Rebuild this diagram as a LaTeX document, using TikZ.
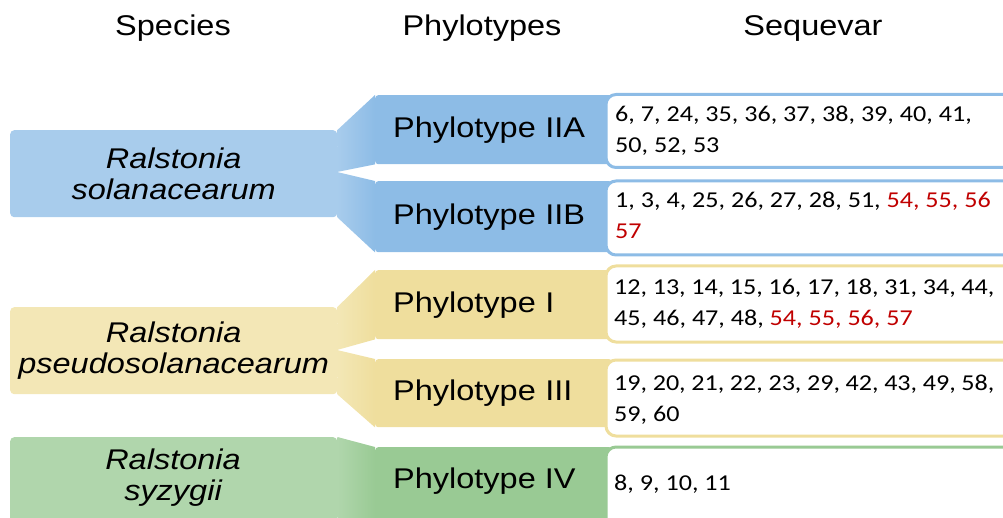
\documentclass[tikz,border=0pt]{standalone}
\usepackage{fontspec}
\setmainfont{Liberation Sans}[FakeStretch=1.14]
\newfontfamily\seqfont{Carlito}[FakeStretch=1.15]
\definecolor{blueL}{RGB}{168,204,236}
\definecolor{blueD}{RGB}{141,188,230}
\definecolor{yelL}{RGB}{243,231,182}
\definecolor{yelD}{RGB}{239,222,157}
\definecolor{greL}{RGB}{176,214,172}
\definecolor{greD}{RGB}{153,202,148}
\definecolor{seqred}{RGB}{192,0,0}
\tikzset{
  header/.style={font=\fontsize{28.5}{31}\selectfont, anchor=base},
  species/.style={rounded corners=4pt, inner sep=0pt, anchor=north west, minimum width=327pt,
     font=\fontsize{28.5}{31}\selectfont\itshape, align=center},
  phylo/.style={rounded corners=3pt, inner ysep=0pt, inner xsep=18pt, anchor=north west,
     minimum width=237pt, text width=201pt, align=left, font=\fontsize{28.5}{31}\selectfont},
  seqbox/.style={draw, line width=3pt, fill=white, rounded corners=10pt, inner sep=0pt,
     anchor=north west, minimum width=430pt},
  seqtext/.style={anchor=base west, inner sep=0pt, font=\seqfont\fontsize{22.7}{31}\selectfont},
}
\newcommand{\seqlines}[1]{\parbox[t]{380pt}{\raggedright #1}}
\begin{document}
\begin{tikzpicture}[x=1pt,y=-1pt]
\useasboundingbox (0,0) rectangle (1003,518);
\clip (0,0) rectangle (1003,518);
% headers
\node[header] (hs) at (173,36) {Species};
\node[header] (hp) at (482,36) {Phylotypes};
\node[header] (hq) at (813,36) {Sequevar};
% species boxes
\node[species, fill=blueL, minimum height=87pt] (sp1) at (10,130) {Ralstonia\\solanacearum};
\node[species, fill=yelL, minimum height=87pt] (sp2) at (10,307) {Ralstonia\\pseudosolanacearum};
\node[species, fill=greL, minimum height=87pt, text depth=0pt] (sp3) at (10,437) {};
\node[font=\fontsize{28.5}{31}\selectfont\itshape, align=center] (sp3t) at (173,478) {Ralstonia\\syzygii};
% phylotype boxes
\node[phylo, fill=blueD, minimum height=69pt] (p2a) at (375,95) {Phylotype IIA};
\node[phylo, fill=blueD, minimum height=71pt] (p2b) at (375,181) {Phylotype IIB};
\node[phylo, fill=yelD, minimum height=69pt] (p1) at (375,270) {Phylotype I};
\node[phylo, fill=yelD, minimum height=68pt] (p3) at (375,359) {Phylotype III};
\node[phylo, fill=greD, minimum height=90pt, text depth=0pt] (p4) at (375,447) {};
\node[anchor=west, inner sep=0pt, font=\fontsize{28.5}{31}\selectfont] (p4t) at (393,481) {Phylotype IV};
% connectors
\coordinate (n1) at (337,172);
\coordinate (n2) at (337,350);
\shade[left color=blueL, right color=blueD] (sp1.north east) -- (p2a.north west) -- (p2a.south west) -- (n1) -- cycle;
\shade[left color=blueL, right color=blueD] (n1) -- (p2b.north west) -- (p2b.south west) -- (sp1.south east) -- cycle;
\shade[left color=yelL, right color=yelD] (sp2.north east) -- (p1.north west) -- (p1.south west) -- (n2) -- cycle;
\shade[left color=yelL, right color=yelD] (n2) -- (p3.north west) -- (p3.south west) -- (sp2.south east) -- cycle;
\shade[left color=greL, right color=greD] (sp3.north east) -- (p4.north west) -- (p4.south west) -- (sp3.south east) -- cycle;
% sequevar boxes
\node[seqbox, draw=blueD, minimum height=73pt] (s2a) at (604.5,93) {};
\node[seqbox, draw=blueD, minimum height=74pt] (s2b) at (604.5,179.5) {};
\node[seqbox, draw=yelD, minimum height=76pt] (s1) at (604.5,264.5) {};
\node[seqbox, draw=yelD, minimum height=76pt] (s3) at (604.5,358.5) {};
\node[seqbox, draw=greD, minimum height=90pt] (s4) at (604.5,445.5) {};
% sequevar texts
\node[seqtext] (t2a) at (615,122) {\seqlines{6, 7, 24, 35, 36, 37, 38, 39, 40, 41,\\50, 52, 53}};
\node[seqtext] (t2b) at (615,208) {\seqlines{1, 3, 4, 25, 26, 27, 28, 51, \textcolor{seqred}{54, 55, 56}\\\textcolor{seqred}{57}}};
\node[seqtext] (t1) at (614,295) {\seqlines{12, 13, 14, 15, 16, 17, 18, 31, 34, 44,\\45, 46, 47, 48, \textcolor{seqred}{54, 55, 56, 57}}};
\node[seqtext] (t3) at (614,390) {\seqlines{19, 20, 21, 22, 23, 29, 42, 43, 49, 58,\\59, 60}};
\node[seqtext] (t4) at (614,490) {\seqlines{8, 9, 10, 11}};
\end{tikzpicture}
\end{document}
